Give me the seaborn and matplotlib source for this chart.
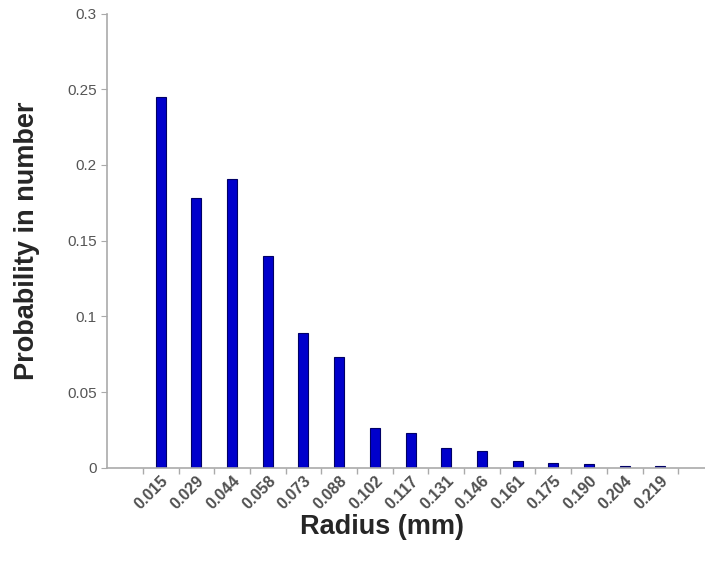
import matplotlib
matplotlib.use("Agg")
import matplotlib.pyplot as plt
import seaborn as sns
import pandas as pd

# Data (first slot is an empty category)
radius_labels = ["", "0.015", "0.029", "0.044", "0.058", "0.073", "0.088", "0.102",
                 "0.117", "0.131", "0.146", "0.161", "0.175", "0.190", "0.204", "0.219"]
probability = [0.0, 0.245, 0.178, 0.191, 0.140, 0.089, 0.073, 0.0265,
               0.0233, 0.013, 0.0112, 0.0045, 0.003, 0.0025, 0.001, 0.0013]
y_ticks = [0, 0.05, 0.1, 0.15, 0.2, 0.25, 0.3]
y_tick_labels = ["0", "0.05", "0.1", "0.15", "0.2", "0.25", "0.3"]

sns.set_style("white")
plt.rcParams["font.family"] = ["Liberation Sans", "DejaVu Sans"]

df = pd.DataFrame({"radius": radius_labels, "prob": probability})

fig = plt.figure(figsize=(7.05, 5.65), dpi=100)
ax = fig.add_axes([0.152, 0.172, 0.848, 0.804])

sns.barplot(data=df, x="radius", y="prob", color="#0000CC", width=0.28,
            edgecolor="#000066", linewidth=0.8, saturation=1, ax=ax)

ax.set_xlim(-0.5, 16.25)
ax.set_ylim(0, 0.3)
ax.set_yticks(y_ticks)
ax.set_yticklabels(y_tick_labels, color="#555555", fontsize=11)

# ticks between categories like the original
ax.set_xticks([i - 0.5 for i in range(1, 17)], minor=True)
ax.set_xticks(range(len(radius_labels)))
ax.set_xticklabels(radius_labels, rotation=45, ha="right", rotation_mode="anchor",
                   color="#505050", fontsize=11.5, fontweight="bold")
ax.tick_params(axis="x", which="major", length=0, pad=4)
ax.tick_params(axis="x", which="minor", bottom=True, length=4, width=1,
               color="#aaaaaa", direction="out")
ax.tick_params(axis="y", length=4, color="#aaaaaa", direction="out", left=True)
for lab in ax.get_xticklabels():
    lab.set_x(lab.get_position()[0] + 0.25)

sns.despine(ax=ax, top=True, right=True)
ax.spines["left"].set_color("#aaaaaa")
ax.spines["bottom"].set_color("#aaaaaa")
ax.spines["left"].set_linewidth(1.2)
ax.spines["bottom"].set_linewidth(1.2)

ax.set_xlabel("Radius (mm)", fontsize=19.5, fontweight="bold", va="center")
ax.set_ylabel("Probability in number", fontsize=19.5, fontweight="bold", va="center")
ax.xaxis.set_label_coords(0.46, -0.13)
ax.yaxis.set_label_coords(-0.134, 0.5)

fig.savefig("out.png", dpi=100)
